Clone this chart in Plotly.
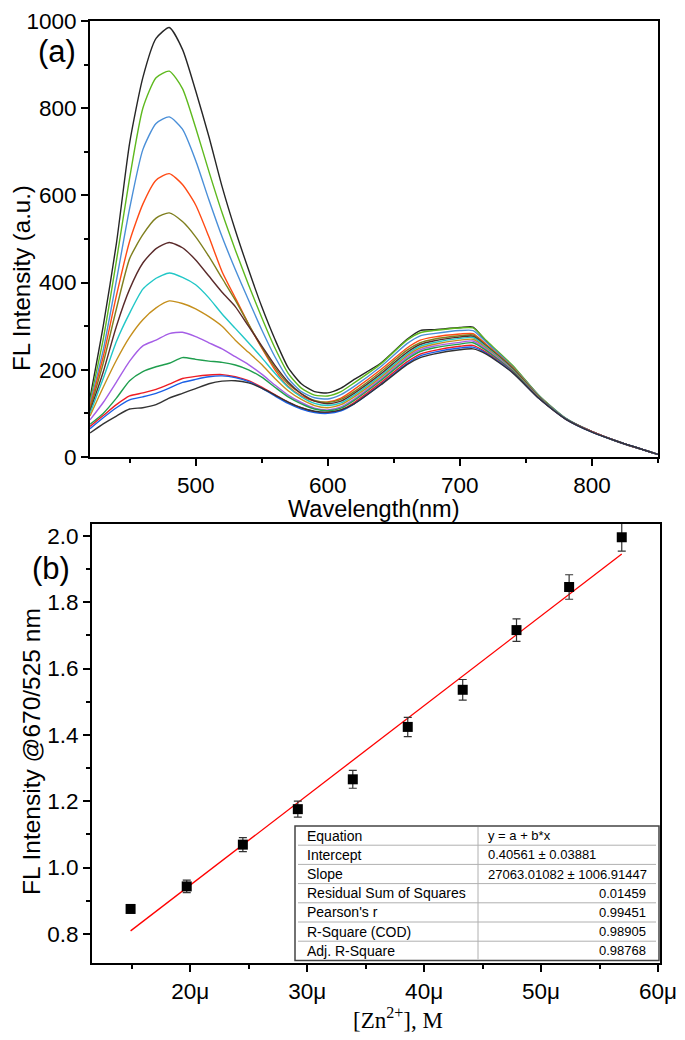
import plotly.graph_objects as go

# ---------------- data: panel (a) ----------------
wavelength = [420, 430, 440, 450, 460, 470, 480, 490, 500, 510, 520, 530, 540, 550, 560, 570,
              580, 590, 600, 610, 620, 640, 660, 670, 680, 700, 710, 720, 740, 760, 780, 800, 820, 850]

s01 = [135, 300, 490, 720, 870, 960, 985, 935, 840, 735, 620, 520, 430, 345, 270, 205,
       168, 150, 147, 158, 178, 215, 270, 290, 292, 297, 298, 265, 208, 140, 88, 58, 34, 6]
s02 = [128, 270, 450, 640, 800, 870, 885, 845, 755, 655, 560, 475, 395, 320, 250, 192,
       158, 142, 140, 150, 170, 213, 268, 285, 290, 296, 296, 267, 210, 141, 89, 58, 35, 6]
s03 = [122, 245, 405, 570, 705, 765, 780, 752, 680, 590, 505, 430, 360, 292, 230, 180,
       150, 136, 133, 143, 162, 207, 260, 278, 283, 290, 290, 263, 207, 140, 89, 58, 35, 6]
s04 = [116, 230, 370, 495, 580, 635, 650, 625, 578, 505, 425, 365, 305, 250, 200, 162,
       140, 128, 126, 135, 155, 200, 250, 268, 275, 282, 283, 258, 205, 138, 88, 58, 35, 6]
s05 = [110, 215, 340, 455, 510, 548, 560, 540, 505, 460, 410, 360, 305, 252, 205, 168,
       145, 130, 125, 132, 150, 195, 245, 262, 270, 278, 280, 256, 204, 138, 88, 58, 35, 6]
s06 = [105, 195, 300, 385, 445, 478, 492, 480, 452, 415, 378, 345, 300, 255, 210, 172,
       145, 128, 122, 128, 146, 190, 240, 258, 266, 275, 277, 254, 202, 137, 88, 58, 35, 6]
s07 = [100, 180, 265, 330, 385, 410, 422, 412, 395, 365, 328, 295, 262, 228, 192, 160,
       138, 123, 118, 124, 142, 186, 236, 254, 262, 272, 274, 252, 200, 136, 88, 58, 35, 6]
s08 = [94, 160, 222, 275, 315, 342, 358, 352, 340, 322, 300, 268, 240, 212, 180, 152,
       132, 118, 113, 120, 138, 182, 232, 250, 258, 268, 270, 250, 199, 136, 88, 58, 35, 6]
s09 = [85, 125, 172, 220, 255, 268, 283, 286, 276, 262, 248, 230, 212, 190, 165, 142,
       125, 112, 108, 115, 133, 178, 228, 246, 254, 263, 266, 247, 198, 135, 88, 58, 35, 6]
s10 = [75, 100, 135, 175, 196, 207, 215, 228, 224, 220, 217, 211, 200, 183, 160, 138,
       122, 110, 106, 112, 130, 175, 224, 242, 250, 259, 262, 244, 197, 135, 88, 58, 35, 6]
s11 = [70, 95, 120, 140, 147, 155, 167, 180, 185, 188, 189, 184, 175, 160, 143, 126,
       113, 104, 102, 108, 125, 170, 218, 236, 244, 254, 256, 240, 195, 134, 87, 58, 35, 6]
s12 = [65, 90, 113, 131, 138, 146, 158, 171, 178, 184, 186, 182, 173, 158, 140, 123,
       110, 102, 100, 106, 122, 166, 214, 232, 240, 250, 252, 238, 194, 134, 87, 57, 35, 6]
s13 = [55, 76, 94, 110, 113, 120, 135, 146, 157, 168, 174, 175, 170, 158, 142, 126,
       113, 105, 103, 108, 122, 165, 212, 228, 236, 246, 248, 236, 193, 134, 87, 57, 35, 6]

spectra = [s01, s02, s03, s04, s05, s06, s07, s08, s09, s10, s11, s12, s13]
spectra_colors = ["#262626", "#5eb91e", "#4a8fd8", "#ff4a14", "#7f7f1e", "#5a2a2a", "#21c7c7",
                  "#c58f1c", "#a55ee6", "#1f9e4e", "#ee1c24", "#1a5fe6", "#333333"]

# ---------------- data: panel (b) ----------------
zn_conc = [14.9e-6, 19.7e-6, 24.5e-6, 29.2e-6, 33.9e-6, 38.6e-6, 43.3e-6, 47.9e-6, 52.4e-6, 56.9e-6]
ratio = [0.875, 0.943, 1.069, 1.176, 1.266, 1.424, 1.536, 1.716, 1.846, 1.996]
ratio_err = [0.012, 0.019, 0.021, 0.024, 0.027, 0.029, 0.031, 0.034, 0.037, 0.042]

fit_intercept = 0.40561
fit_slope = 27063.01082

table_labels = ["Equation", "Intercept", "Slope", "Residual Sum of Squares",
                "Pearson's r", "R-Square (COD)", "Adj. R-Square"]
table_values = ["y = a + b*x", "0.40561 ± 0.03881", "27063.01082 ± 1006.91447",
                "0.01459", "0.99451", "0.98905", "0.98768"]
table_value_align = ["left", "left", "left", "right", "right", "right", "right"]

x2_tickvals = [20e-6, 30e-6, 40e-6, 50e-6, 60e-6]
x2_ticktext = ["20μ", "30μ", "40μ", "50μ", "60μ"]
x2_minor = [15e-6, 25e-6, 35e-6, 45e-6, 55e-6]

# ---------------- figure ----------------
fig = go.Figure()

for s, col in zip(spectra, spectra_colors):
    fig.add_trace(go.Scatter(x=wavelength, y=s, mode="lines",
                             line=dict(color=col, width=1.4, shape="spline", smoothing=0.6),
                             xaxis="x", yaxis="y", showlegend=False, hoverinfo="skip"))

fit_x = [zn_conc[0], zn_conc[-1]]
fit_y = [fit_intercept + fit_slope * v for v in fit_x]
fig.add_trace(go.Scatter(x=fit_x, y=fit_y, mode="lines", line=dict(color="#ff0000", width=1.3),
                         xaxis="x2", yaxis="y2", showlegend=False))
fig.add_trace(go.Scatter(x=zn_conc, y=ratio, mode="markers",
                         marker=dict(symbol="square", size=10, color="black"),
                         error_y=dict(type="data", array=ratio_err, color="#333333",
                                      thickness=1.2, width=4),
                         xaxis="x2", yaxis="y2", showlegend=False))

# The page body has an 8 px margin, so the figure starts at page pixel (8, 8).
OFF = 8
W, H = 685 - OFF, 1040 - OFF
# plot-area edges in page pixels
P_LEFT, P_RIGHT, P_TOP, P_BOTTOM = 90, 660, 21, 963
ML, MT = P_LEFT - OFF, P_TOP - OFF
MR, MB = W - (P_RIGHT - OFF), H - (P_BOTTOM - OFF)
PW, PH = W - ML - MR, H - MT - MB

def px_to_paper_x(px):
    return (px - OFF - ML) / PW

def px_to_paper_y(py):
    return (H - MB - (py - OFF)) / PH

SANS = "Liberation Sans, Arial"
axis_common = dict(showline=True, linecolor="black", linewidth=2, mirror=True,
                   ticks="outside", ticklen=7, tickwidth=2, tickcolor="black",
                   showgrid=False, zeroline=False, automargin=False,
                   tickfont=dict(family=SANS, size=22.5, color="black"))
minor_common = dict(ticks="outside", ticklen=4, tickwidth=2, tickcolor="black")

fig.update_layout(
    width=W, height=H,
    margin=dict(l=ML, r=MR, t=MT, b=MB, autoexpand=False),
    paper_bgcolor="white", plot_bgcolor="white",
    xaxis=dict(axis_common, domain=[0, px_to_paper_x(658)], range=[420, 850],
               tickvals=[500, 600, 700, 800],
               minor=dict(minor_common, tickvals=[450, 550, 650, 750, 850]),
               anchor="y"),
    yaxis=dict(axis_common, domain=[px_to_paper_y(457), 1], range=[0, 1000], dtick=200,
               minor=dict(minor_common, dtick=100),
               anchor="x"),
    xaxis2=dict(axis_common, domain=[px_to_paper_x(92), 1], range=[11.6e-6, 60.17e-6],
                tickmode="array", tickvals=x2_tickvals, ticktext=x2_ticktext,
                minor=dict(minor_common, tickvals=x2_minor),
                anchor="y2"),
    yaxis2=dict(axis_common, domain=[0, px_to_paper_y(524)], range=[0.712, 2.036], dtick=0.2,
                tickformat=".1f",
                minor=dict(minor_common, dtick=0.1),
                anchor="x2"),
)

def label(text, px, py, size, angle=0, family=SANS, **kw):
    fig.add_annotation(text=text, x=px_to_paper_x(px), y=px_to_paper_y(py), xref="paper",
                       yref="paper", showarrow=False, textangle=angle, xanchor="center",
                       yanchor="middle", font=dict(family=family, size=size, color="black"), **kw)

# axis titles placed as in the reference
label("Wavelength(nm)", 374, 509, 23.5)
label("FL Intensity (a.u.)", 21, 278, 24, angle=-90)
label("FL Intensity @670/525 nm", 32, 752, 24.5, angle=-90)
label("[Zn<sup>2+</sup>], M", 398, 1018, 23, family="Liberation Serif, Times New Roman")

# panel labels
label("(a)", 57, 52, 31)
label("(b)", 51, 568, 31)

# fit-results table (drawn in pixel-derived paper coordinates)
t_left, t_right, t_split = 295, 659, 478
t_top, row_h = 826, 19.2
n_rows = len(table_labels)
t_bottom = t_top + row_h * n_rows
fig.add_shape(type="rect", xref="paper", yref="paper",
              x0=px_to_paper_x(t_left), x1=px_to_paper_x(t_right),
              y0=px_to_paper_y(t_bottom), y1=px_to_paper_y(t_top),
              fillcolor="white", line=dict(color="#444444", width=1.5), layer="above")
for i in range(1, n_rows):
    yy = px_to_paper_y(t_top + i * row_h)
    fig.add_shape(type="line", xref="paper", yref="paper",
                  x0=px_to_paper_x(t_left + 3), x1=px_to_paper_x(t_right - 3), y0=yy, y1=yy,
                  line=dict(color="#b0b0b0", width=1), layer="above")
fig.add_shape(type="line", xref="paper", yref="paper",
              x0=px_to_paper_x(t_split), x1=px_to_paper_x(t_split),
              y0=px_to_paper_y(t_bottom - 1), y1=px_to_paper_y(t_top + 1),
              line=dict(color="#b0b0b0", width=1), layer="above")
lfont = dict(family=SANS, size=14, color="black")
vfont = dict(family=SANS, size=13, color="black")
for i, (lab, val, al) in enumerate(zip(table_labels, table_values, table_value_align)):
    yc = px_to_paper_y(t_top + (i + 0.5) * row_h)
    fig.add_annotation(text=lab, x=px_to_paper_x(305), y=yc, xref="paper", yref="paper",
                       xanchor="left", yanchor="middle", showarrow=False, font=lfont)
    if al == "left":
        fig.add_annotation(text=val, x=px_to_paper_x(486), y=yc, xref="paper", yref="paper",
                           xanchor="left", yanchor="middle", showarrow=False, font=vfont)
    else:
        fig.add_annotation(text=val, x=px_to_paper_x(648), y=yc, xref="paper", yref="paper",
                           xanchor="right", yanchor="middle", showarrow=False, font=vfont)

fig.write_html("out.html")
